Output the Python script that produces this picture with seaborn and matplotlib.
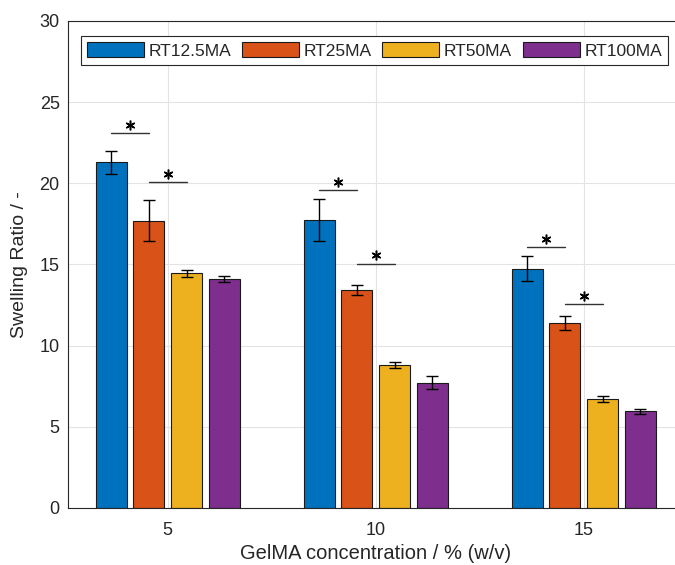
import numpy as np
import pandas as pd
import matplotlib
matplotlib.use("Agg")
import matplotlib.pyplot as plt
from matplotlib.container import BarContainer
import seaborn as sns

# ---- data ----
concentrations = [5, 10, 15]
series = ["RT12.5MA", "RT25MA", "RT50MA", "RT100MA"]
rt125_mean = [21.3, 17.75, 14.75]
rt25_mean = [17.7, 13.45, 11.4]
rt50_mean = [14.45, 8.8, 6.7]
rt100_mean = [14.1, 7.7, 5.95]
rt125_err = [0.7, 1.3, 0.75]
rt25_err = [1.25, 0.3, 0.42]
rt50_err = [0.2, 0.2, 0.17]
rt100_err = [0.18, 0.4, 0.17]
# significance bars: (group index, left series index, height)
sig_group = [0, 0, 1, 1, 2, 2]
sig_left = [0, 1, 0, 1, 0, 1]
sig_height = [23.07, 20.06, 19.57, 15.06, 16.05, 12.55]

colors = ["#0072BD", "#D95319", "#EDB120", "#7E2F8E"]

means = [rt125_mean, rt25_mean, rt50_mean, rt100_mean]
errs = [rt125_err, rt25_err, rt50_err, rt100_err]
rows = []
for s, m in zip(series, means):
    for c, v in zip(concentrations, m):
        rows.append({"conc": c, "series": s, "ratio": v})
df = pd.DataFrame(rows)

sns.set_style("white")
plt.rcParams["font.family"] = ["Liberation Sans", "DejaVu Sans"]

fig = plt.figure(figsize=(6.75, 5.65), dpi=100)
ax = fig.add_axes([0.1007, 0.1009, 0.912, 0.862])

sns.barplot(data=df, x="conc", y="ratio", hue="series", hue_order=series,
            palette=colors, native_scale=True, width=0.724, gap=0.177,
            edgecolor="#1a1a1a", linewidth=0.8, saturation=1, errorbar=None,
            ax=ax, zorder=2)

bar_conts = [c for c in ax.containers if isinstance(c, BarContainer)]

# error bars from bar positions
centers = {}
for i, cont in enumerate(bar_conts):
    for j, bar in enumerate(cont):
        cx = bar.get_x() + bar.get_width() / 2
        centers[(i, j)] = cx
        ax.errorbar(cx, means[i][j], yerr=errs[i][j], fmt="none",
                    ecolor="black", elinewidth=1.0, capsize=4.5,
                    capthick=1.0, zorder=3)

# significance markers
for g, l, h in zip(sig_group, sig_left, sig_height):
    x0 = centers[(l, g)]
    x1 = centers[(l + 1, g)]
    ax.plot([x0, x1], [h, h], color="#333333", lw=1.0, zorder=3)
    ax.plot([(x0 + x1) / 2], [h + 0.5], marker=(6, 2, 0), ms=7,
            mew=1.1, color="black", zorder=3)

ax.set_xlim(2.6, 17.4)
ax.set_ylim(0, 30)
ax.set_xticks(concentrations)
ax.set_xticklabels([str(c) for c in concentrations])
ax.set_yticks(np.arange(0, 31, 5))
ax.grid(True, color="#e3e3e3", lw=0.8)
ax.set_axisbelow(True)
for side in ["left", "bottom", "top", "right"]:
    ax.spines[side].set_visible(True)
    ax.spines[side].set_color("#262626")
    ax.spines[side].set_linewidth(0.8)
ax.tick_params(direction="in", length=4, width=0.8, colors="#262626",
               labelsize=13, labelcolor="#262626", pad=6)
ax.tick_params(axis="x", pad=10)
ax.set_xlabel("GelMA concentration / % (w/v)", fontsize=14.5, color="#262626", labelpad=4)
ax.set_ylabel("Swelling Ratio / -", fontsize=14, color="#262626", labelpad=8)

sns.move_legend(ax, "upper left", bbox_to_anchor=(0.021, 0.969),
                borderaxespad=0, ncol=4, title=None, frameon=True,
                fancybox=False, framealpha=1, edgecolor="#262626",
                fontsize=12.5, handlelength=3.28, handleheight=0.95,
                handletextpad=0.28, columnspacing=0.6, borderpad=0.35)
ax.get_legend().get_frame().set_linewidth(0.8)

fig.savefig("out.png", dpi=100)
